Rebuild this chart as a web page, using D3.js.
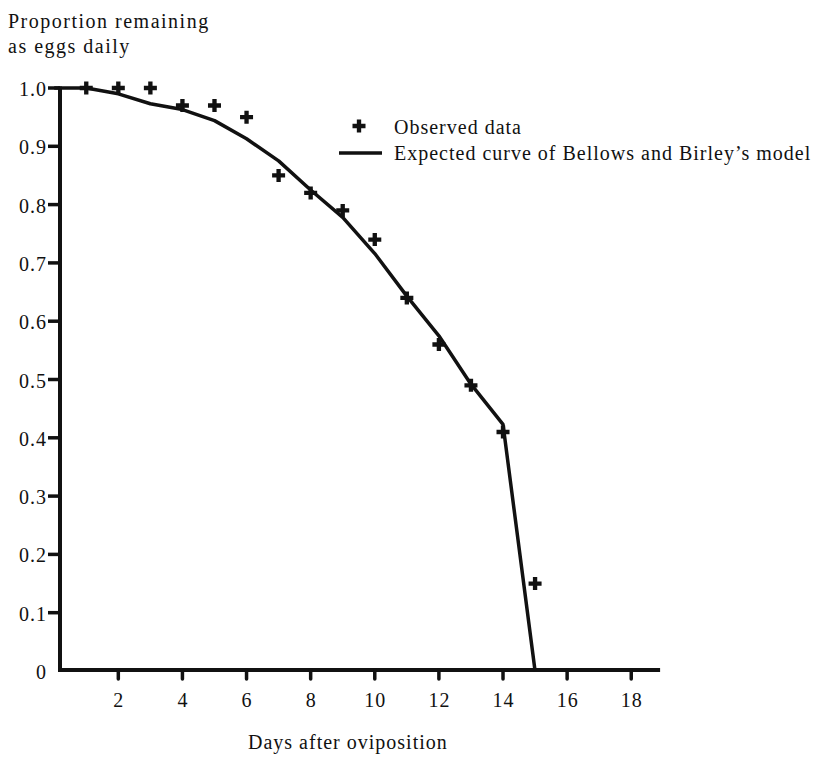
<!DOCTYPE html>
<html>
<head>
<meta charset="utf-8">
<script src="https://cdn.jsdelivr.net/npm/d3@7"></script>
<style>
    html, body { margin: 0; padding: 0; background: #fff; }
    svg { display: block; }
    text { font-family: "Liberation Serif", "Times New Roman", Times, serif; fill: #111; }
</style>
</head>
<body>
<svg></svg>
<script>
// DATA
const OBS_DAYS = [1, 2, 3, 4, 5, 6, 7, 8, 9, 10, 11, 12, 13, 14, 15];
const OBS_VALUES = [1.00, 1.00, 1.00, 0.97, 0.97, 0.95, 0.85, 0.82, 0.79, 0.74, 0.64, 0.56, 0.49, 0.41, 0.15];

const MODEL_DAYS = [0, 1, 2, 3, 4, 5, 6, 7, 8, 9, 10, 11, 12, 13, 14, 15];
const MODEL_VALUES = [1.00, 1.00, 0.99, 0.973, 0.963, 0.944, 0.913, 0.875, 0.825, 0.778, 0.716, 0.643, 0.575, 0.492, 0.423, 0];

const X_TICKS = [2, 4, 6, 8, 10, 12, 14, 16, 18];
const Y_TICKS = [0, 0.1, 0.2, 0.3, 0.4, 0.5, 0.6, 0.7, 0.8, 0.9, 1.0];

const TITLE_LINES = ["Proportion remaining", "as eggs daily"];
const X_LABEL = "Days after oviposition";
const LEGEND = ["Observed data", "Expected curve of Bellows and Birley\u2019s model"];

// LAYOUT
const WIDTH = 831, HEIGHT = 762;
const INK = '#111';
const AXIS_X = 60;          // y axis sits a little right of day 0
const AXIS_Y = 670;

const xScale = d3.scaleLinear().domain([0, 19]).range([54.2, 663.3]);
const yScale = d3.scaleLinear().domain([0, 1]).range([671, 88]);

const svg = d3.select('svg')
    .attr('width', WIDTH)
    .attr('height', HEIGHT);

// Title (y axis label)
svg.selectAll('.title')
    .data(TITLE_LINES)
    .enter()
    .append('text')
    .classed('title', true)
    .attr('x', 8)
    .attr('y', (d, i) => 28 + i * 25)
    .style('font-size', '20px')
    .style('letter-spacing', '1.5px')
    .text(d => d);

// Axis lines
svg.append('line')
    .attr('x1', AXIS_X).attr('x2', AXIS_X)
    .attr('y1', yScale(1) - 1.5).attr('y2', AXIS_Y + 2)
    .style('stroke', INK).style('stroke-width', 4);

svg.append('line')
    .attr('x1', AXIS_X - 2).attr('x2', xScale(18.9))
    .attr('y1', AXIS_Y).attr('y2', AXIS_Y)
    .style('stroke', INK).style('stroke-width', 4);

// Y ticks
svg.selectAll('.y-tick')
    .data(Y_TICKS.filter(d => d > 0))
    .enter()
    .append('line')
    .classed('y-tick', true)
    .attr('x1', 48).attr('x2', AXIS_X)
    .attr('y1', d => yScale(d)).attr('y2', d => yScale(d))
    .style('stroke', INK).style('stroke-width', 3.5);

svg.selectAll('.y-label')
    .data(Y_TICKS)
    .enter()
    .append('text')
    .classed('y-label', true)
    .attr('x', 47)
    .attr('y', d => yScale(d) + 8)
    .style('font-size', '20px')
    .style('letter-spacing', '1px')
    .style('text-anchor', 'end')
    .text(d => d === 0 ? '0' : d3.format('.1f')(d));

// X ticks
svg.selectAll('.x-tick')
    .data(X_TICKS)
    .enter()
    .append('line')
    .classed('x-tick', true)
    .attr('x1', d => xScale(d)).attr('x2', d => xScale(d))
    .attr('y1', AXIS_Y).attr('y2', AXIS_Y + 9)
    .style('stroke', INK).style('stroke-width', 3.5)
    .style('stroke-linecap', 'round');

svg.selectAll('.x-label')
    .data(X_TICKS)
    .enter()
    .append('text')
    .classed('x-label', true)
    .attr('x', d => xScale(d) + 0.5)
    .attr('y', 707)
    .style('font-size', '20px')
    .style('letter-spacing', '1px')
    .style('text-anchor', 'middle')
    .text(d => d);

svg.append('text')
    .attr('x', 248)
    .attr('y', 749)
    .style('font-size', '20px')
    .style('letter-spacing', '1px')
    .text(X_LABEL);

// Expected curve
const modelData = MODEL_DAYS.map((d, i) => ({ day: d, value: MODEL_VALUES[i] }));
const line = d3.line()
    .x(d => xScale(d.day))
    .y(d => yScale(d.value));

svg.append('path')
    .datum(modelData)
    .attr('d', line)
    .style('fill', 'none')
    .style('stroke', INK)
    .style('stroke-width', 3.5)
    .style('stroke-linejoin', 'round');

// Observed crosses
const cross = d3.symbol().type(d3.symbolCross).size(94);
const obsData = OBS_DAYS.map((d, i) => ({ day: d, value: OBS_VALUES[i] }));

svg.selectAll('.obs')
    .data(obsData)
    .enter()
    .append('path')
    .classed('obs', true)
    .attr('d', cross)
    .attr('transform', d => `translate(${xScale(d.day)},${yScale(d.value)})`)
    .style('fill', INK);

// Legend
svg.append('path')
    .attr('d', cross)
    .attr('transform', 'translate(359,126)')
    .style('fill', INK);

svg.append('line')
    .attr('x1', 339).attr('x2', 382)
    .attr('y1', 153).attr('y2', 153)
    .style('stroke', INK).style('stroke-width', 3.5);

svg.selectAll('.legend-label')
    .data(LEGEND)
    .enter()
    .append('text')
    .classed('legend-label', true)
    .attr('x', 394)
    .attr('y', (d, i) => 134 + i * 26)
    .style('font-size', '20px')
    .style('letter-spacing', '1px')
    .text(d => d);
</script>
</body>
</html>
